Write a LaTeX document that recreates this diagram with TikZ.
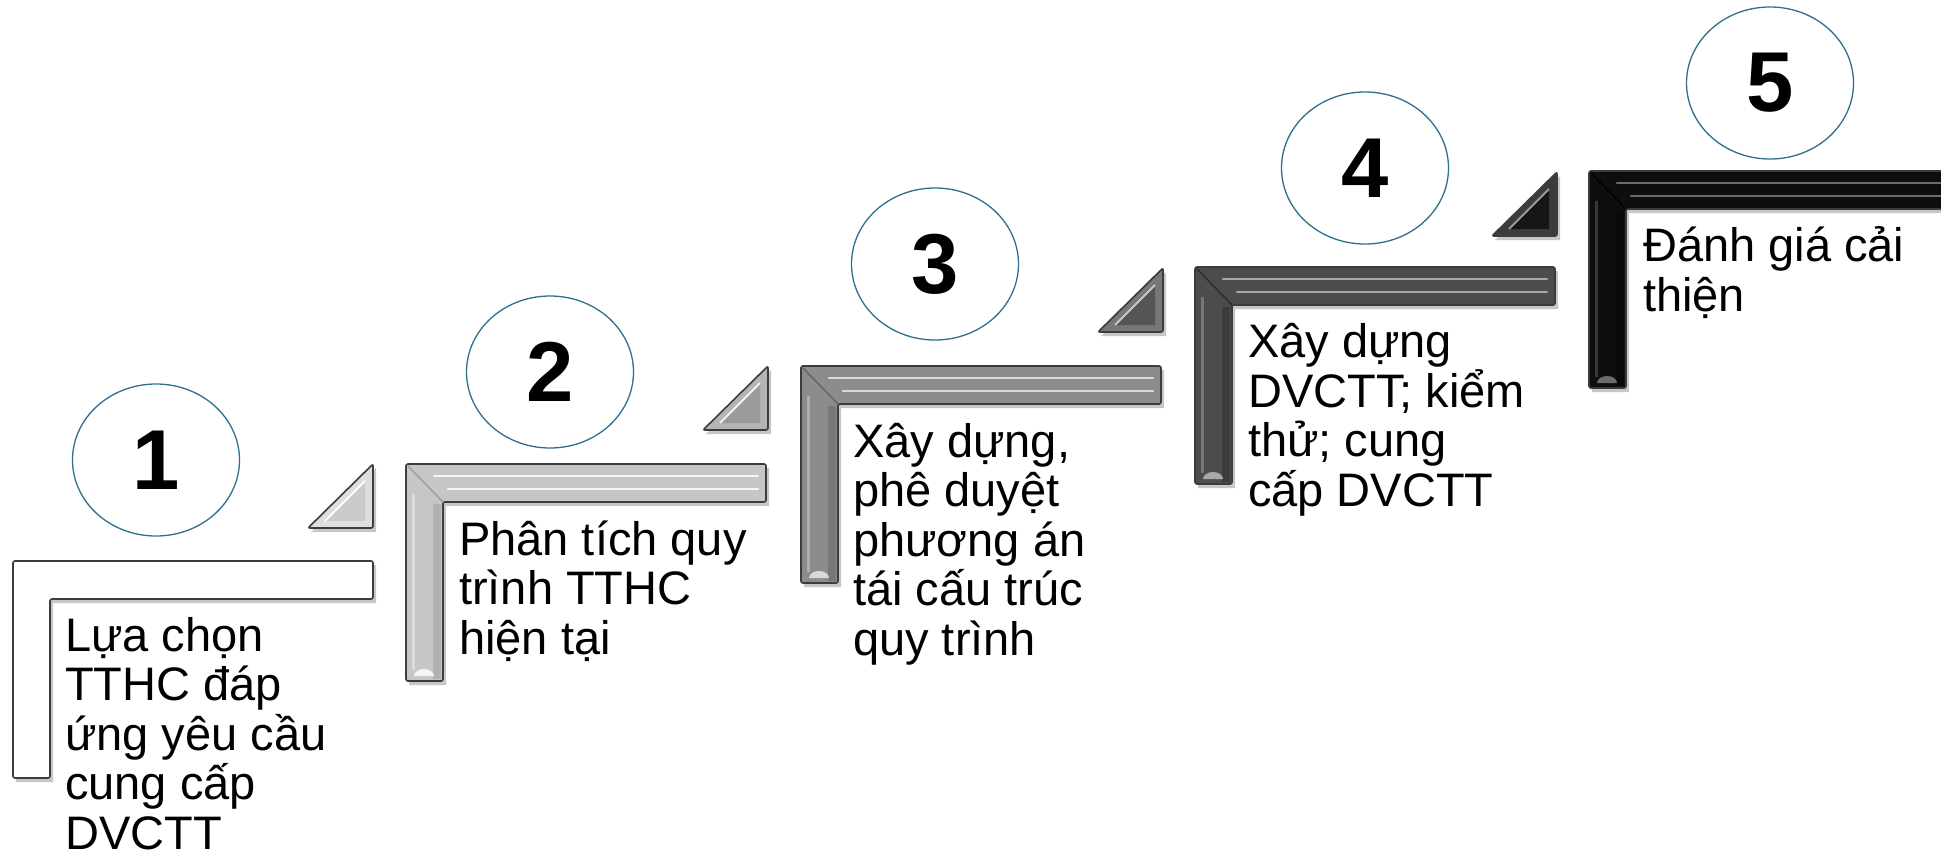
\documentclass[tikz,border=0pt]{standalone}
\usepackage{fontspec}
\setmainfont{Liberation Sans}
\usepackage{xcolor}
\usetikzlibrary{shapes.geometric}

\definecolor{ringblue}{RGB}{46,110,142}
\definecolor{edgegray}{RGB}{60,60,60}
\definecolor{lfill1}{RGB}{255,255,255}\definecolor{lhi1}{RGB}{255,255,255}\definecolor{ldark1}{RGB}{255,255,255}
\definecolor{lfill2}{RGB}{198,198,198}\definecolor{lhi2}{RGB}{245,245,245}\definecolor{ldark2}{RGB}{150,150,150}
\definecolor{lfill3}{RGB}{140,140,140}\definecolor{lhi3}{RGB}{218,218,218}\definecolor{ldark3}{RGB}{94,94,94}
\definecolor{lfill4}{RGB}{76,76,76}\definecolor{lhi4}{RGB}{168,168,168}\definecolor{ldark4}{RGB}{40,40,40}
\definecolor{lfill5}{RGB}{14,14,14}\definecolor{lhi5}{RGB}{108,108,108}\definecolor{ldark5}{RGB}{0,0,0}
\definecolor{tfill1}{RGB}{222,222,222}\definecolor{tdark1}{RGB}{202,202,202}\definecolor{thi1}{RGB}{255,255,255}
\definecolor{tfill2}{RGB}{180,180,180}\definecolor{tdark2}{RGB}{154,154,154}\definecolor{thi2}{RGB}{240,240,240}
\definecolor{tfill3}{RGB}{119,119,119}\definecolor{tdark3}{RGB}{85,85,85}\definecolor{thi3}{RGB}{200,200,200}
\definecolor{tfill4}{RGB}{60,60,60}\definecolor{tdark4}{RGB}{22,22,22}\definecolor{thi4}{RGB}{154,154,154}

\begin{document}
\begin{tikzpicture}[x=1pt,y=-1pt,
  numring/.style={ellipse,draw=ringblue,line width=1.3pt,minimum width=167pt,minimum height=152pt,inner sep=0pt,font=\fontsize{85}{85}\selectfont\bfseries},
  steptext/.style={anchor=base west,align=left,inner sep=0pt,font=\fontsize{47}{49.5}\selectfont},
  frame/.style={draw=edgegray,line width=1.6pt,rounded corners=2pt},
  ridge/.style={line width=2.4pt,line cap=round}]
\useasboundingbox (0,0) rectangle (1941,854);
\clip (0,0) rectangle (1941,854);
% the five L-shaped steps with their numbers
\foreach \i/\lx/\ly/\cx/\cy in {1/13/561/156/460,2/406/464/550/372,3/801/366/935/264,4/1195/267/1365/168,5/1589/171/1770/83}{
  \def\lpath{(\lx,\ly) -- ++(360,0) -- ++(0,38) -- ++(-323,0) -- ++(0,179) -- ++(-37,0) -- cycle}
  \fill[black,opacity=.22,shift={(3,4)}] \lpath;
  \path[frame,fill=lfill\i] \lpath;
  \fill[ldark\i!45!lfill\i] (\lx+27,\ly+40) rectangle (\lx+35,\ly+215);
  \draw[lhi\i!45!lfill\i,line width=3pt] (\lx+7,\ly+30) -- (\lx+7,\ly+206);
  \draw[ridge,lhi\i] (\lx+28,\ly+12) -- (\lx+352,\ly+12);
  \draw[ridge,lhi\i] (\lx+42,\ly+25) -- (\lx+352,\ly+25);
  \draw[ldark\i,line width=1.2pt] (\lx+2,\ly+2) -- (\lx+37,\ly+38);
  \fill[lhi\i] (\lx+8,\ly+212) arc[start angle=180,end angle=360,x radius=10,y radius=7];
  \node[numring] (n\i) at (\cx,\cy) {\i};
}
% small triangles between the steps
\foreach \i/\rx/\by in {1/373/528,2/768/430,3/1163/332,4/1557/236}{
  \fill[black,opacity=.22,shift={(3,4)}] (\rx,\by) -- ++(-65,0) -- ++(65,-64) -- cycle;
  \path[frame,fill=tfill\i] (\rx,\by) -- ++(-65,0) -- ++(65,-64) -- cycle;
  \fill[tdark\i] (\rx-8,\by-7) -- ++(-40,0) -- ++(40,-40) -- cycle;
  \draw[thi\i,line width=2pt] (\rx-48,\by-7) -- (\rx-8,\by-47);
}
% texts: the base anchor sits on the last line
\node[steptext] (t1) at (65,849) {Lựa chọn\\TTHC đáp\\ứng yêu cầu\\cung cấp\\DVCTT};
\node[steptext] (t2) at (459,654) {Phân tích quy\\trình TTHC\\hiện tại};
\node[steptext] (t3) at (853,655) {Xây dựng,\\phê duyệt\\phương án\\tái cấu trúc\\quy trình};
\node[steptext] (t4) at (1248,506) {Xây dựng\\DVCTT; kiểm\\thử; cung\\cấp DVCTT};
\node[steptext] (t5) at (1643,311) {Đánh giá cải\\thiện};
\end{tikzpicture}
\end{document}
